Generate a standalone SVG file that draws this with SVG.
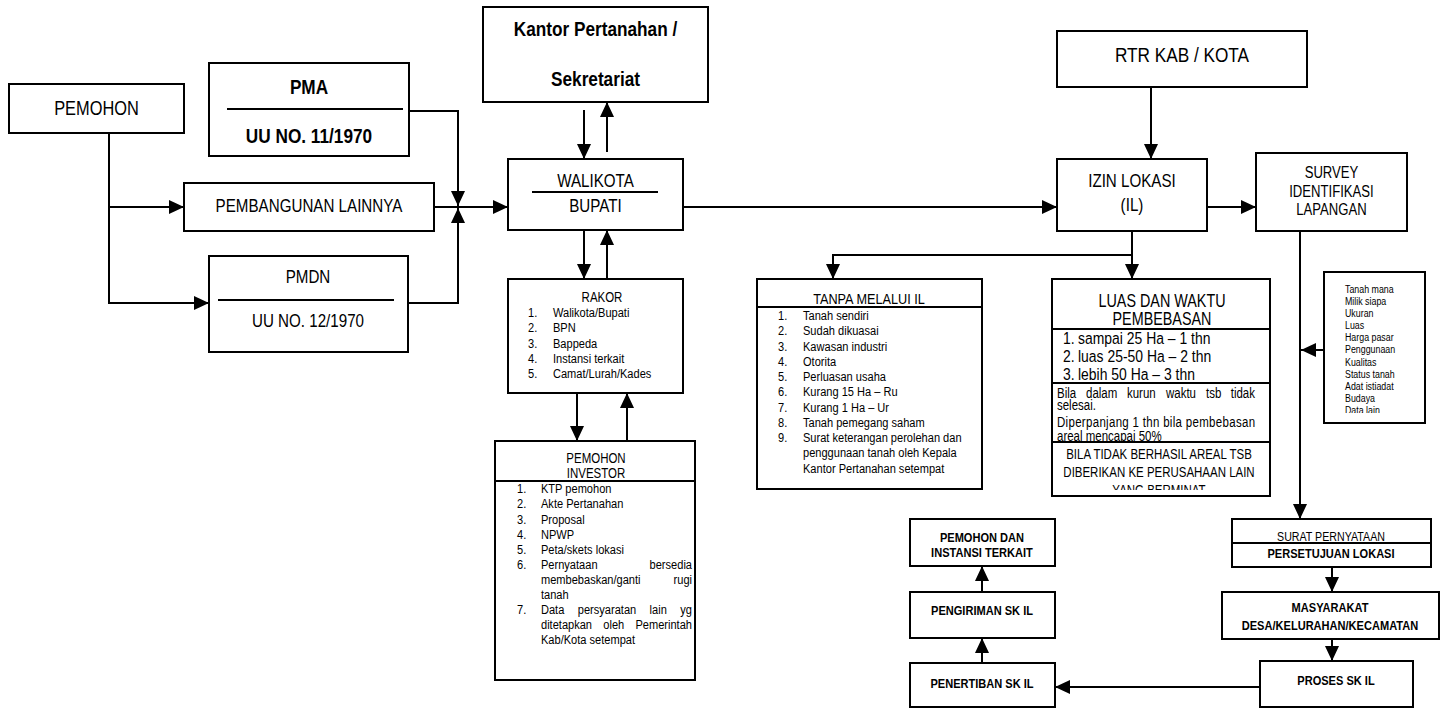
<svg xmlns="http://www.w3.org/2000/svg" width="1442" height="709" viewBox="0 0 1442 709">
<defs>
<marker id="ah" markerUnits="userSpaceOnUse" markerWidth="15" markerHeight="14" refX="15" refY="7" orient="auto"><path d="M0,0 L15,7 L0,14 z" fill="#000"/></marker>
<clipPath id="cpPara"><rect x="1052" y="383" width="218" height="59"/></clipPath>
<clipPath id="cpBila"><rect x="1052" y="442" width="218" height="48"/></clipPath>
<clipPath id="cpList"><rect x="1324" y="272" width="101" height="141"/></clipPath>
<style>
.b{fill:#fff;stroke:#000;stroke-width:2}
.l{stroke:#000;stroke-width:2;fill:none}
.c{stroke:#000;stroke-width:2;fill:none;marker-end:url(#ah)}
text{font-family:"Liberation Sans",Arial,sans-serif;fill:#000}
.m{text-anchor:middle}
.e{text-anchor:end}
.bd{font-weight:bold}
.f21{font-size:21px}
.f20{font-size:20px}
.f185{font-size:18.5px}
.f175{font-size:17.5px}
.f17{font-size:17px}
.f16{font-size:16px}
.f155{font-size:15.5px}
.f14{font-size:14px}
.f135{font-size:13.5px}
.f13{font-size:13px}
.f11{font-size:10.8px}
</style>
</defs>
<rect width="1442" height="709" fill="#fff"/>

<g id="connectors">
<path class="c" d="M109,133 V303 H209"/>
<path class="c" d="M109,207 H184"/>
<path class="c" d="M409,111 H458 V206"/>
<path class="c" d="M408,303 H458 V208"/>
<path class="c" d="M434,207 H508"/>
<path class="c" d="M584,110 V159"/>
<path class="c" d="M607,152 V102"/>
<path class="c" d="M584,230 V279"/>
<path class="c" d="M607,279 V230"/>
<path class="c" d="M577,393 V441"/>
<path class="c" d="M627,441 V393"/>
<path class="c" d="M683,207 H1057"/>
<path class="c" d="M1151,87 V159"/>
<path class="c" d="M1207,207 H1256"/>
<path class="c" d="M1132,231 V279"/>
<path class="c" d="M1132,255 H833 V279"/>
<path class="c" d="M1300,231 V519"/>
<path class="c" d="M1324,350 H1301"/>
<path class="c" d="M1332,567 V592"/>
<path class="c" d="M1332,639 V661"/>
<path class="c" d="M1260,687 H1055"/>
<path class="c" d="M982,663 V638"/>
<path class="c" d="M982,592 V566"/>
</g>

<g id="pemohon">
<rect class="b" x="9" y="84" width="175" height="49"/>
<text class="m f20" transform="matrix(.82 0 0 1 17.37 0)" x="96.5" y="115">PEMOHON</text>
</g>

<g id="pma">
<rect class="b" x="209" y="63" width="200" height="93"/>
<line class="l" x1="227" y1="109" x2="403" y2="109"/>
<g transform="matrix(.82 0 0 1 55.62 0)">
<text class="m f21 bd" x="309" y="94">PMA</text>
<text class="m f21 bd" x="309" y="143">UU NO. 11/1970</text>
</g>
</g>

<g id="pembangunan">
<rect class="b" x="184" y="183" width="250" height="48"/>
<text class="m f185" transform="matrix(.82 0 0 1 55.62 0)" x="309" y="212">PEMBANGUNAN LAINNYA</text>
</g>

<g id="pmdn">
<rect class="b" x="209" y="256" width="199" height="96"/>
<line class="l" x1="218" y1="300" x2="394" y2="300"/>
<g transform="matrix(.82 0 0 1 55.44 0)">
<text class="m f185" x="308" y="283">PMDN</text>
<text class="m f185" x="308" y="327">UU NO. 12/1970</text>
</g>
</g>

<g id="kantor">
<rect class="b" x="483" y="7" width="225" height="95"/>
<g transform="matrix(.82 0 0 1 107.19 0)">
<text class="m f21 bd" x="595.5" y="36">Kantor Pertanahan /</text>
<text class="m f21 bd" x="595.5" y="86">Sekretariat</text>
</g>
</g>

<g id="walikota">
<rect class="b" x="508" y="159" width="175" height="71"/>
<line class="l" x1="532" y1="192" x2="658" y2="192"/>
<g transform="matrix(.82 0 0 1 107.19 0)">
<text class="m f185" x="595.5" y="187">WALIKOTA</text>
<text class="m f185" x="595.5" y="212">BUPATI</text>
</g>
</g>

<g id="rakor">
<rect class="b" x="508" y="279" width="175" height="114"/>
<text class="m f14" transform="matrix(.82 0 0 1 108.36 0)" x="602" y="302">RAKOR</text>
<g class="f135" transform="matrix(.82 0 0 1 95.04 0)">
<text x="528" y="317">1.</text><text x="528" y="332">2.</text><text x="528" y="348">3.</text><text x="528" y="363">4.</text><text x="528" y="378">5.</text>
</g>
<g class="f135" transform="matrix(.82 0 0 1 99.54 0)">
<text x="553" y="317">Walikota/Bupati</text>
<text x="553" y="332">BPN</text>
<text x="553" y="348">Bappeda</text>
<text x="553" y="363">Instansi terkait</text>
<text x="553" y="378">Camat/Lurah/Kades</text>
</g>
</g>

<g id="investor">
<rect class="b" x="495" y="441" width="200" height="239"/>
<line class="l" x1="495" y1="481" x2="695" y2="481"/>
<g class="f14" transform="matrix(.82 0 0 1 107.28 0)">
<text class="m" x="596" y="463">PEMOHON</text>
<text class="m" x="596" y="478">INVESTOR</text>
</g>
<g class="f135" transform="matrix(.82 0 0 1 93.06 0)">
<text x="517" y="493">1.</text><text x="517" y="508">2.</text><text x="517" y="524">3.</text><text x="517" y="539">4.</text><text x="517" y="554">5.</text><text x="517" y="569">6.</text><text x="517" y="614">7.</text>
</g>
<g class="f135" transform="matrix(.82 0 0 1 97.38 0)">
<text x="541" y="493">KTP pemohon</text>
<text x="541" y="508">Akte Pertanahan</text>
<text x="541" y="524">Proposal</text>
<text x="541" y="539">NPWP</text>
<text x="541" y="554">Peta/skets lokasi</text>
<text x="541" y="569">Pernyataan</text>
<text x="541" y="584">membebaskan/ganti</text>
<text x="541" y="599">tanah</text>
<text x="541" y="614">Data</text>
<text x="541" y="629">ditetapkan</text>
<text x="541" y="644">Kab/Kota setempat</text>
</g>
<g class="f135 e" transform="matrix(.82 0 0 1 124.56 0)">
<text class="e" x="692" y="569">bersedia</text>
<text class="e" x="692" y="584">rugi</text>
<text class="e" x="692" y="614">yg</text>
<text class="e" x="692" y="629">Pemerintah</text>
</g>
<text class="f135" transform="matrix(.82 0 0 1 104.004 0)" x="577.8" y="614">persyaratan</text>
<text class="f135" transform="matrix(.82 0 0 1 116.928 0)" x="649.6" y="614">lain</text>
<text class="f135" transform="matrix(.82 0 0 1 108.594 0)" x="603.3" y="629">oleh</text>
</g>

<g id="rtr">
<rect class="b" x="1057" y="31" width="250" height="56"/>
<text class="m f21" transform="matrix(.82 0 0 1 212.76 0)" x="1182" y="62">RTR KAB / KOTA</text>
</g>

<g id="izin">
<rect class="b" x="1057" y="159" width="150" height="72"/>
<g class="f185" transform="matrix(.82 0 0 1 203.76 0)">
<text class="m" x="1132" y="187">IZIN LOKASI</text>
<text class="m" x="1132" y="211">(IL)</text>
</g>
</g>

<g id="survey">
<rect class="b" x="1256" y="153" width="151" height="78"/>
<g class="f16" transform="matrix(.82 0 0 1 239.67 0)">
<text class="m" x="1331.5" y="178">SURVEY</text>
<text class="m" x="1331.5" y="197">IDENTIFIKASI</text>
<text class="m" x="1331.5" y="215">LAPANGAN</text>
</g>
</g>

<g id="tanpa">
<rect class="b" x="757" y="279" width="225" height="210"/>
<line class="l" x1="757" y1="307" x2="982" y2="307"/>
<text class="m f155" transform="matrix(.82 0 0 1 156.42 0)" x="869" y="304">TANPA MELALUI IL</text>
<g class="f135" transform="matrix(.82 0 0 1 140.04 0)">
<text x="778" y="320">1.</text><text x="778" y="335">2.</text><text x="778" y="351">3.</text><text x="778" y="366">4.</text><text x="778" y="381">5.</text><text x="778" y="396">6.</text><text x="778" y="412">7.</text><text x="778" y="427">8.</text><text x="778" y="442">9.</text>
</g>
<g class="f135" transform="matrix(.82 0 0 1 144.54 0)">
<text x="803" y="320">Tanah sendiri</text>
<text x="803" y="335">Sudah dikuasai</text>
<text x="803" y="351">Kawasan industri</text>
<text x="803" y="366">Otorita</text>
<text x="803" y="381">Perluasan usaha</text>
<text x="803" y="396">Kurang 15 Ha – Ru</text>
<text x="803" y="412">Kurang 1 Ha – Ur</text>
<text x="803" y="427">Tanah pemegang saham</text>
<text x="803" y="442">Surat keterangan perolehan dan</text>
<text x="803" y="457">penggunaan tanah oleh Kepala</text>
<text x="803" y="473">Kantor Pertanahan setempat</text>
</g>
</g>

<g id="luas">
<rect class="b" x="1052" y="279" width="218" height="217"/>
<g class="f175" transform="matrix(.82 0 0 1 209.16 0)">
<text class="m" x="1162" y="307">LUAS DAN WAKTU</text>
<text class="m" x="1162" y="325">PEMBEBASAN</text>
</g>
<line class="l" x1="1052" y1="329" x2="1270" y2="329"/>
<g class="f17" transform="matrix(.82 0 0 1 191.34 0)">
<text x="1063" y="344">1.</text><text x="1063" y="362">2.</text><text x="1063" y="380">3.</text>
</g>
<g class="f17" transform="matrix(.82 0 0 1 194.04 0)">
<text x="1078" y="344">sampai 25 Ha – 1 thn</text>
<text x="1078" y="362">luas 25-50 Ha – 2 thn</text>
<text x="1078" y="380">lebih 50 Ha – 3 thn</text>
</g>
<line class="l" x1="1052" y1="383" x2="1270" y2="383"/>
<g class="f14" clip-path="url(#cpPara)">
<text transform="matrix(.82 0 0 1 190.26 0)" x="1057" y="398">Bila</text>
<text transform="matrix(.82 0 0 1 195.48 0)" x="1086" y="398">dalam</text>
<text transform="matrix(.82 0 0 1 202.86 0)" x="1127" y="398">kurun</text>
<text transform="matrix(.82 0 0 1 209.88 0)" x="1166" y="398">waktu</text>
<text transform="matrix(.82 0 0 1 217.08 0)" x="1206" y="398">tsb</text>
<text class="e" transform="matrix(.82 0 0 1 225.9 0)" x="1255" y="398">tidak</text>
<g transform="matrix(.82 0 0 1 190.26 0)">
<text x="1057" y="410">selesai.</text>
<text x="1057" y="427" textLength="241.5" lengthAdjust="spacing">Diperpanjang 1 thn bila pembebasan</text>
<text x="1057" y="441">areal mencapai 50%</text>
</g>
</g>
<line class="l" x1="1052" y1="442" x2="1270" y2="442"/>
<g class="f14" clip-path="url(#cpBila)">
<g transform="matrix(.82 0 0 1 208.62 0)">
<text class="m" x="1159" y="459">BILA TIDAK BERHASIL AREAL TSB</text>
<text class="m" x="1159" y="477">DIBERIKAN KE PERUSAHAAN LAIN</text>
<text class="m" x="1159" y="495">YANG BERMINAT</text>
</g>
</g>
</g>

<g id="datalist">
<rect class="b" x="1324" y="272" width="101" height="151"/>
<g class="f11" clip-path="url(#cpList)">
<g transform="matrix(.82 0 0 1 242.1 0)">
<text x="1345" y="293">Tanah mana</text>
<text x="1345" y="305.1">Milik siapa</text>
<text x="1345" y="317.2">Ukuran</text>
<text x="1345" y="329.3">Luas</text>
<text x="1345" y="341.4">Harga pasar</text>
<text x="1345" y="353.5">Penggunaan</text>
<text x="1345" y="365.6">Kualitas</text>
<text x="1345" y="377.7">Status tanah</text>
<text x="1345" y="389.8">Adat istiadat</text>
<text x="1345" y="401.9">Budaya</text>
<text x="1345" y="414">Data lain</text>
</g>
</g>
</g>

<g id="surat">
<rect class="b" x="1232" y="519" width="199" height="48"/>
<line class="l" x1="1232" y1="543" x2="1431" y2="543"/>
<g transform="matrix(.82 0 0 1 239.58 0)">
<text class="m f13" x="1331" y="541">SURAT PERNYATAAN</text>
<text class="m f135 bd" x="1331" y="558">PERSETUJUAN LOKASI</text>
</g>
</g>

<g id="masyarakat">
<rect class="b" x="1222" y="592" width="217" height="47"/>
<g class="f135 bd" transform="matrix(.82 0 0 1 239.4 0)">
<text class="m" x="1330" y="612">MASYARAKAT</text>
<text class="m" x="1330" y="630">DESA/KELURAHAN/KECAMATAN</text>
</g>
</g>

<g id="proses">
<rect class="b" x="1260" y="661" width="153" height="46"/>
<text class="m f135 bd" transform="matrix(.82 0 0 1 240.48 0)" x="1336" y="685">PROSES SK IL</text>
</g>

<g id="penertiban">
<rect class="b" x="910" y="663" width="145" height="44"/>
<text class="m f135 bd" transform="matrix(.82 0 0 1 176.76 0)" x="982" y="688">PENERTIBAN SK IL</text>
</g>

<g id="pengiriman">
<rect class="b" x="910" y="592" width="145" height="46"/>
<text class="m f135 bd" transform="matrix(.82 0 0 1 176.76 0)" x="982" y="615">PENGIRIMAN SK IL</text>
</g>

<g id="pemohon-dan">
<rect class="b" x="910" y="519" width="145" height="47"/>
<g class="f135 bd" transform="matrix(.82 0 0 1 176.76 0)">
<text class="m" x="982" y="542">PEMOHON DAN</text>
<text class="m" x="982" y="557">INSTANSI TERKAIT</text>
</g>
</g>
</svg>
